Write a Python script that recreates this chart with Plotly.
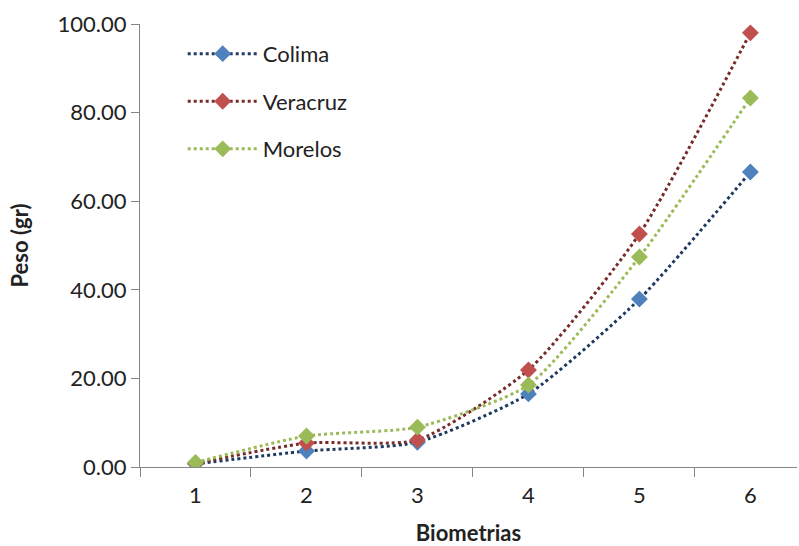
import plotly.graph_objects as go

categories = ["1", "2", "3", "4", "5", "6"]
colima = [0.7, 3.6, 5.6, 16.5, 37.9, 66.6]
veracruz = [0.8, 5.4, 6.1, 21.9, 52.6, 98.0]
morelos = [1.0, 7.0, 9.0, 18.5, 47.4, 83.3]
y_ticks = [0, 20, 40, 60, 80, 100]

series = [
    ("Colima", colima, "#1F3A60", "#4F81BD"),
    ("Veracruz", veracruz, "#772C2A", "#C0504D"),
    ("Morelos", morelos, "#9BBB59", "#9BBB59"),
]

FONT = "Lato, 'Open Sans', sans-serif"

fig = go.Figure()
for i, (name, vals, lc, mc) in enumerate(series):
    fig.add_trace(go.Scatter(
        x=categories, y=vals, name=name, mode="lines+markers",
        line=dict(color=lc, width=3, dash="dot", shape="spline", smoothing=0.6),
        marker=dict(symbol="diamond", size=13, color=mc),
        legendgroup=name,
    ))

fig.update_layout(
    width=799, height=546,
    margin=dict(l=140, r=2, t=24, b=79),
    paper_bgcolor="white", plot_bgcolor="white",
    font=dict(family=FONT, size=22, color="#222"),
    showlegend=True,
    legend=dict(
        x=0.065, y=0.98, xanchor="left", yanchor="top",
        traceorder="grouped", tracegroupgap=16,
        font=dict(size=22, color="#222"), bgcolor="rgba(0,0,0,0)",
        itemwidth=70,
    ),
    xaxis=dict(
        type="category", tickson="boundaries", ticks="outside", ticklen=9,
        range=[-0.5, 5.42],
        tickcolor="#868686", showline=True, linecolor="#868686", linewidth=1,
        showgrid=False, tickfont=dict(size=22), ticklabelstandoff=9,
        title=dict(text="<b>Biometrias</b>", font=dict(size=22), standoff=20),
    ),
    yaxis=dict(
        range=[0, 100], tickvals=y_ticks, tickformat=".2f", ticks="outside",
        ticklen=8, tickcolor="#868686", showline=True, linecolor="#868686",
        linewidth=1, showgrid=False, zeroline=False, tickfont=dict(size=22),
        title=dict(text="<b>Peso (gr)</b>", font=dict(size=22), standoff=22),
    ),
)

fig.write_html("out.html")
